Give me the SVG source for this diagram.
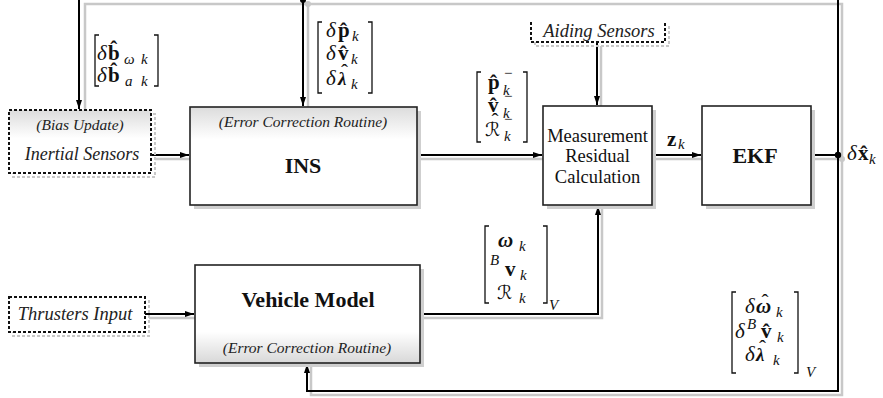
<svg xmlns="http://www.w3.org/2000/svg" width="883" height="398" viewBox="0 0 883 398">
<style>
.box{fill:#fff;stroke:#222;stroke-width:1.6}
.shd{fill:#cfcfcf}
.dash{stroke:#111;stroke-width:2;stroke-dasharray:3 2;fill:#fff}
.dshd{stroke:#c8c8c8;stroke-width:2;stroke-dasharray:3 2;fill:none}
.ln{fill:none;stroke:#000;stroke-width:2}
.gl{fill:none;stroke:#c8c8c8;stroke-width:2.5}
.br{fill:none;stroke:#111;stroke-width:1.3}
.it{font-family:"Liberation Serif",serif;font-style:italic;fill:#222}
.rm{font-family:"Liberation Serif",serif;fill:#111}
.bd{font-family:"Liberation Serif",serif;font-weight:bold;fill:#111}
.mi{font-family:"Liberation Serif",serif;font-style:italic;font-size:21px;fill:#111}
.mb{font-family:"Liberation Serif",serif;font-weight:bold;font-size:21px;fill:#111}
.mbi{font-family:"Liberation Serif",serif;font-weight:bold;font-style:italic;font-size:21px;fill:#111}
.lam{font-family:"Liberation Serif",serif;font-weight:bold;font-style:italic;font-size:19px;fill:#111}
.sb{font-family:"Liberation Serif",serif;font-style:italic;font-size:15px;fill:#111}
.hat{font-family:"Liberation Serif",serif;font-size:21px;text-anchor:middle;fill:#111}
.cal{font-family:"DejaVu Serif","DejaVu Sans",serif;font-style:italic;font-size:19px;fill:#111}
</style>
<defs>
<marker id="ar" markerUnits="userSpaceOnUse" markerWidth="10" markerHeight="8" refX="9" refY="4" orient="auto">
<path d="M0,1 L9,4 L0,7 Z" fill="#000"/>
</marker>
<linearGradient id="gTop" x1="0" y1="0" x2="0" y2="1">
<stop offset="0" stop-color="#dcdcdc"/><stop offset="0.33" stop-color="#fff"/><stop offset="1" stop-color="#fff"/>
</linearGradient>
<linearGradient id="gTop2" x1="0" y1="0" x2="0" y2="1">
<stop offset="0" stop-color="#dcdcdc"/><stop offset="0.45" stop-color="#fff"/><stop offset="1" stop-color="#fff"/>
</linearGradient>
<linearGradient id="gBot" x1="0" y1="0" x2="0" y2="1">
<stop offset="0" stop-color="#fff"/><stop offset="0.68" stop-color="#fff"/><stop offset="1" stop-color="#d8d8d8"/>
</linearGradient>
</defs>

<g id="connectors">
<path class="gl" d="M842,159 V4 H85 V110"/>
<path class="gl" d="M308,4 V107"/>
<circle cx="308" cy="4" r="3" fill="#c8c8c8"/>
<path class="gl" d="M842,159 V395 H311 V364"/>
<path class="gl" d="M811,159 H842"/>
<circle cx="842" cy="159" r="3" fill="#c8c8c8"/>
<path class="gl" d="M155,159 H190"/>
<path class="gl" d="M421,159 H543"/>
<path class="gl" d="M656,159 H702"/>
<path class="gl" d="M601,46 V106"/>
<path class="gl" d="M149,318 H195"/>
<path class="gl" d="M424,318 H602 V206"/>
<path class="ln" d="M838,155 V-1 H79 V109" marker-end="url(#ar)"/>
<path class="ln" d="M303,-1 V106" marker-end="url(#ar)"/>
<circle cx="303" cy="0" r="3" fill="#000"/>
<path class="ln" d="M838,155 V391 H307 V364" marker-end="url(#ar)"/>
<path class="ln" d="M811,155 H838"/>
<circle cx="838" cy="155" r="3.2" fill="#000"/>
<path class="ln" d="M151,155 H189" marker-end="url(#ar)"/>
<path class="ln" d="M417,155 H542" marker-end="url(#ar)"/>
<path class="ln" d="M652,155 H701" marker-end="url(#ar)"/>
<path class="ln" d="M597,42 V105" marker-end="url(#ar)"/>
<path class="ln" d="M145,314 H194" marker-end="url(#ar)"/>
<path class="ln" d="M420,314 H598 V206" marker-end="url(#ar)"/>
</g>

<g id="inertial-sensors">
<rect class="dshd" x="13" y="114" width="142" height="63"/>
<rect class="dash" x="9" y="110" width="142" height="63" style="fill:url(#gTop2)"/>
<text class="it" x="80" y="130" font-size="15.5" text-anchor="middle">(Bias Update)</text>
<text class="it" x="82" y="160" font-size="18" text-anchor="middle">Inertial Sensors</text>
</g>

<g id="thrusters-input">
<rect class="dshd" x="13" y="301" width="136" height="35"/>
<rect class="dash" x="9" y="297" width="136" height="35"/>
<text class="it" x="75" y="320" font-size="18.5" text-anchor="middle">Thrusters Input</text>
</g>

<g id="aiding-sensors">
<path class="dshd" d="M669,26 V46 H535 V42"/>
<path class="dash" d="M531,22 V42 H665 V22" style="fill:#fff"/>
<text class="it" x="599" y="37" font-size="18.5" text-anchor="middle">Aiding Sensors</text>
</g>

<g id="ins">
<rect class="shd" x="194" y="111" width="227" height="98"/>
<rect class="box" x="190" y="107" width="227" height="98" style="fill:url(#gTop)"/>
<text class="it" x="303" y="127" font-size="15.5" text-anchor="middle">(Error Correction Routine)</text>
<text class="bd" x="303" y="173" font-size="22" text-anchor="middle">INS</text>
</g>

<g id="measurement">
<rect class="shd" x="547" y="110" width="109" height="99"/>
<rect class="box" x="543" y="106" width="109" height="99"/>
<text class="rm" x="597.5" y="142" font-size="18.5" text-anchor="middle">Measurement</text>
<text class="rm" x="597.5" y="162" font-size="18.5" text-anchor="middle">Residual</text>
<text class="rm" x="597.5" y="183" font-size="18.5" text-anchor="middle">Calculation</text>
</g>

<g id="ekf">
<rect class="shd" x="706" y="110" width="109" height="99"/>
<rect class="box" x="702" y="106" width="109" height="99"/>
<text class="bd" x="755" y="163" font-size="22" text-anchor="middle">EKF</text>
</g>

<g id="vehicle-model">
<rect class="shd" x="199" y="269" width="225" height="98"/>
<rect class="box" x="195" y="265" width="225" height="98" style="fill:url(#gBot)"/>
<text class="bd" x="308" y="307" font-size="22" text-anchor="middle">Vehicle Model</text>
<text class="it" x="307" y="353" font-size="15.5" text-anchor="middle">(Error Correction Routine)</text>
</g>

<g id="labels">
<path class="br" d="M99,35 H95 V86 H99 M154,35 H158 V86 H154"/>
<text class="mi" x="97" y="60">δ</text>
<text class="mb" x="108" y="60">b̂</text>
<text class="sb" x="124" y="64">ω</text><text class="sb" x="141" y="64">k</text>
<text class="mi" x="97" y="82">δ</text>
<text class="mb" x="108" y="82">b̂</text>
<text class="sb" x="125" y="86">a</text><text class="sb" x="141" y="86">k</text>

<path class="br" d="M322,22 H318 V93 H322 M368,22 H372 V93 H368"/>
<text class="mi" x="326" y="37">δ</text>
<text class="mb" x="338" y="37">p̂</text>
<text class="sb" x="352" y="41">k</text>
<text class="mi" x="326" y="60">δ</text>
<text class="mb" x="338" y="60">v̂</text>
<text class="sb" x="351" y="64">k</text>
<text class="mi" x="326" y="85">δ</text>
<text class="lam" x="338" y="85">λ</text>
<text class="hat" x="344.5" y="79">ˆ</text>
<text class="sb" x="351" y="89">k</text>

<path class="br" d="M481,72 H477 V142 H481 M523,72 H527 V142 H523"/>
<text class="mb" x="488" y="89">p̂</text>
<text class="sb" x="503" y="95">k</text>
<text class="rm" x="504" y="78" font-size="15">−</text>
<text class="mb" x="488" y="112">v̂</text>
<text class="sb" x="503" y="118">k</text>
<text class="rm" x="504" y="101" font-size="15">−</text>
<text class="cal" x="485" y="136">ℛ</text>
<text class="hat" x="495" y="128">ˆ</text>
<text class="sb" x="504" y="141">k</text>
<text class="rm" x="504" y="124" font-size="15">−</text>

<path class="br" d="M489,226 H485 V303 H489 M543,226 H547 V303 H543"/>
<text class="mbi" x="498" y="247">ω</text>
<text class="sb" x="519" y="251">k</text>
<text class="sb" x="490" y="265">B</text>
<text class="mb" x="505" y="276">v</text>
<text class="sb" x="520" y="280">k</text>
<text class="cal" x="497" y="299">ℛ</text>
<text class="sb" x="519" y="303">k</text>
<text class="sb" x="549" y="310">V</text>

<path class="br" d="M736,292 H732 V373 H736 M794,292 H798 V373 H794"/>
<text class="mi" x="745" y="313">δ</text>
<text class="mbi" x="756" y="313">ω</text>
<text class="hat" x="765" y="309">ˆ</text>
<text class="sb" x="776" y="317">k</text>
<text class="mi" x="735" y="338">δ</text>
<text class="sb" x="747" y="329">B</text>
<text class="mb" x="761" y="338">v̂</text>
<text class="sb" x="777" y="342">k</text>
<text class="mi" x="745" y="361">δ</text>
<text class="lam" x="756" y="361">λ</text>
<text class="hat" x="762.5" y="355">ˆ</text>
<text class="sb" x="773" y="365">k</text>
<text class="sb" x="806" y="377">V</text>

<text class="mb" x="667" y="146">z</text>
<text class="sb" x="678" y="149">k</text>

<text class="mi" x="847" y="160">δ</text>
<text class="mb" x="858" y="160">x̂</text>
<text class="sb" x="869" y="164">k</text>
</g>
</svg>
